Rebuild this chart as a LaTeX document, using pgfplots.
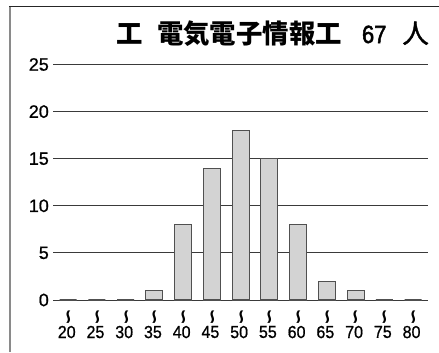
\documentclass[border=0pt]{standalone}
\usepackage{fontspec}
\usepackage{graphicx}
\usepackage{pgfplots}
\pgfplotsset{compat=1.18}
\setmainfont{Liberation Sans}[FakeBold=0.9]
\newfontfamily\numb{Liberation Sans}[FakeBold=2.2]
\newfontfamily\cjk{Noto Sans CJK JP}
\newfontfamily\cjkm{Noto Sans CJK JP}[FakeBold=1.4]
\newfontfamily\sym{DejaVu Sans}
\definecolor{barfill}{HTML}{D3D3D3}
\definecolor{baredge}{HTML}{505050}
\definecolor{gridc}{HTML}{3A3A3A}
\definecolor{framel}{HTML}{8A8A8A}
\newcommand{\ytf}{\fontsize{18}{18}\selectfont}
\newcommand{\xtf}{\fontsize{17.5}{17.5}\selectfont}
\newcommand{\sq}{\rotatebox{-90}{\reflectbox{\sym\bfseries\fontsize{20}{20}\selectfont ∼}}}
\newcommand{\xl}[1]{\sq\\[-1bp]\scalebox{0.92}[1]{\xtf #1}}
\begin{document}
\begin{tikzpicture}[x=1bp,y=1bp]
\useasboundingbox (0,0) rectangle (439,352);
\fill[white] (0,0) rectangle (439,352);
\draw[framel, line width=2.2bp] (10,0) -- (10,345);
\draw[black!85, line width=1.4bp] (9,345.3) -- (439,345.3);
\node[anchor=base east, inner sep=0pt] at (429,309)
  {{\cjk\bfseries\fontsize{26.5}{26.5}\selectfont 工\hspace{0.54em}電気電子情報工}\hspace{20bp}\scalebox{0.88}[1]{\numb\fontsize{25}{25}\selectfont 67}\hspace{16bp}{\cjkm\fontsize{26.5}{26.5}\selectfont 人}};
\begin{axis}[
  at={(53bp,52bp)}, anchor=south west,
  scale only axis, width=375bp, height=235.5bp,
  xmin=-0.53, xmax=12.52, ymin=0, ymax=25,
  axis line style={draw=none},
  major tick length=0pt,
  ytick={0,5,10,15,20,25},
  yticklabel={\ytf\pgfmathprintnumber{\tick}},
  ymajorgrids,
  grid style={gridc, line width=0.9bp},
  xtick={0,...,12},
  xticklabels={{\xl{20}},{\xl{25}},{\xl{30}},{\xl{35}},{\xl{40}},{\xl{45}},{\xl{50}},{\xl{55}},{\xl{60}},{\xl{65}},{\xl{70}},{\xl{75}},{\xl{80}}},
  xticklabel style={align=center, font=\xtf, inner sep=0pt, yshift=-9bp, xshift=-1.5bp},
  yticklabel style={font=\ytf, inner sep=0pt, xshift=-4bp},
  /pgf/number format/assume math mode=true,
  clip=false,
]
\addplot[ybar, bar width=17bp, fill=barfill, draw=baredge, line width=1.1bp]
  coordinates {(0,0) (1,0) (2,0) (3,1) (4,8) (5,14) (6,18) (7,15) (8,8) (9,2) (10,1) (11,0) (12,0)};
\end{axis}
\end{tikzpicture}
\end{document}
